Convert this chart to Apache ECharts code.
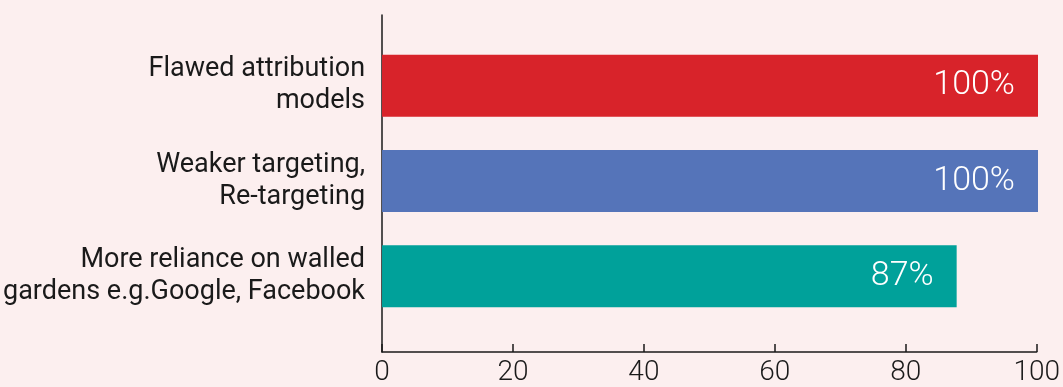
<!DOCTYPE html>
<html><head><meta charset="utf-8">
<script src="https://cdn.jsdelivr.net/npm/echarts@6/dist/echarts.min.js"></script>
<style>html,body{margin:0;padding:0;background:#fcefef;}#c{width:1063px;height:387px;}</style>
</head><body><div id="c"></div>
<script>
const categories = ["Flawed attribution\nmodels", "Weaker targeting,\nRe-targeting", "More reliance on walled\ngardens e.g.Google, Facebook"];
const values = [100, 100, 87.6];
const valueLabels = ["100%", "100%", "87%"];
const barColors = ["#d8232a", "#5574b9", "#00a19a"];
const xTicks = [0, 20, 40, 60, 80, 100];

const chart = echarts.init(document.getElementById('c'));
const font = 'Roboto';
chart.setOption({
  backgroundColor: '#fcefef',
  animation: false,
  grid: [
    {left: 382, right: 25, top: 15, bottom: 27},
    {left: 382, right: 25, top: 38, bottom: 63}
  ],
  xAxis: [
    {gridIndex: 0, type: 'value', min: xTicks[0], max: xTicks[xTicks.length-1], interval: 20,
     axisLine: {show: true, lineStyle: {color: '#1a1a1a', width: 1.5}},
     axisTick: {show: true, inside: true, length: 8, lineStyle: {color: '#1a1a1a', width: 1.5}},
     axisLabel: {color: '#1a1a1a', fontFamily: font, fontSize: 28, fontWeight: 300, margin: 7},
     splitLine: {show: false}},
    {gridIndex: 1, type: 'value', min: 0, max: 100, show: false}
  ],
  yAxis: [
    {gridIndex: 0, type: 'category', data: [''],
     axisLine: {show: true, lineStyle: {color: '#1a1a1a', width: 1.5}},
     axisTick: {show: false}, axisLabel: {show: false}},
    {gridIndex: 1, type: 'category', data: categories, inverse: true,
     axisLine: {show: false}, axisTick: {show: false},
     axisLabel: {color: '#1a1a1a', fontFamily: font, fontSize: 27, fontWeight: 400, lineHeight: 32, margin: 17, align: 'right'}}
  ],
  series: [{
    type: 'bar', xAxisIndex: 1, yAxisIndex: 1, barWidth: 62,
    data: values.map((v, i) => ({value: v, itemStyle: {color: barColors[i]}})),
    label: {show: true, position: 'insideRight', distance: 23, color: '#ffffff', fontFamily: font, fontSize: 34, fontWeight: 300,
            formatter: p => valueLabels[p.dataIndex]}
  }]
});
</script></body></html>
